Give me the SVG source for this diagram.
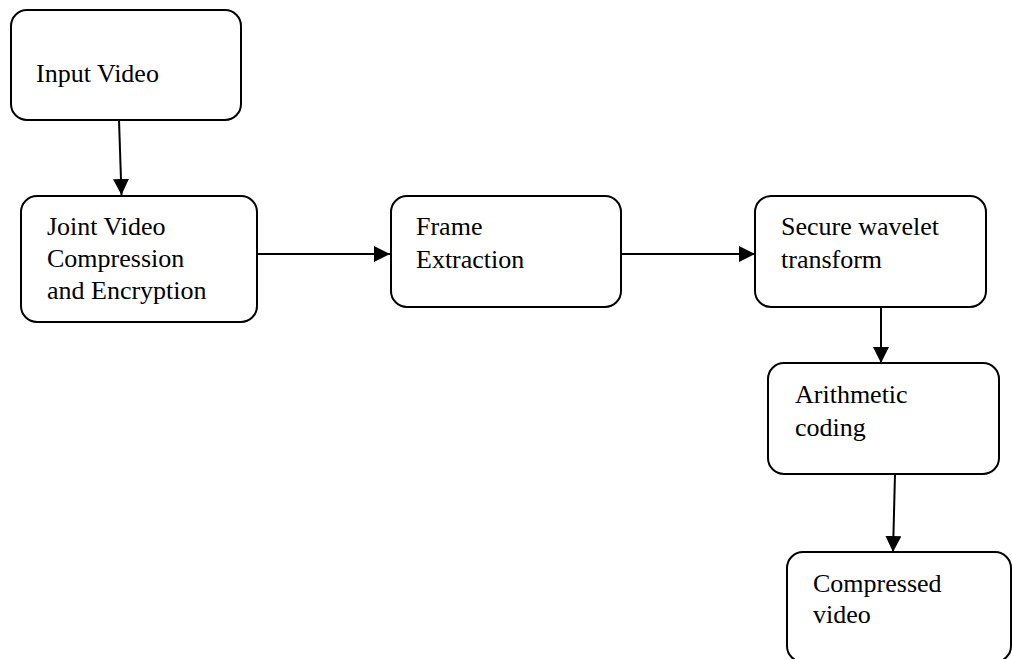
<svg xmlns="http://www.w3.org/2000/svg" width="1012" height="659" viewBox="0 0 1012 659">
<style>
.box{fill:#fff;stroke:#000;stroke-width:2}
.lbl{font-family:'Liberation Serif','Times New Roman',Times,'DejaVu Serif',serif;font-size:26px;fill:#000}
.con{stroke:#000;stroke-width:2;fill:none}
</style>
<defs>
<marker id="ah" viewBox="0 0 16 16" refX="16" refY="8" markerWidth="16" markerHeight="16" markerUnits="userSpaceOnUse" orient="auto">
<path d="M0,0 L16,8 L0,16 Z" fill="#000"/>
</marker>
</defs>
<rect width="1012" height="659" fill="#fff"/>
<g id="connectors">
<line class="con" x1="119" y1="120" x2="121.5" y2="195" marker-end="url(#ah)"/>
<line class="con" x1="257" y1="254" x2="390" y2="254" marker-end="url(#ah)"/>
<line class="con" x1="620" y1="254" x2="755" y2="254" marker-end="url(#ah)"/>
<line class="con" x1="881" y1="307" x2="881" y2="363" marker-end="url(#ah)"/>
<line class="con" x1="895" y1="474" x2="893" y2="552" marker-end="url(#ah)"/>
</g>
<g id="input-video">
<rect class="box" x="11" y="10" width="230" height="110" rx="16"/>
<text class="lbl" x="36" y="82" font-family="Liberation Serif, serif">Input Video</text>
</g>
<g id="joint-video">
<rect class="box" x="21" y="196" width="236" height="126" rx="16"/>
<text class="lbl" x="47" y="235">Joint Video</text>
<text class="lbl" x="47" y="267">Compression</text>
<text class="lbl" x="47" y="299">and Encryption</text>
</g>
<g id="frame-extraction">
<rect class="box" x="391" y="196" width="230" height="111" rx="16"/>
<text class="lbl" x="416" y="235">Frame</text>
<text class="lbl" x="416" y="268">Extraction</text>
</g>
<g id="secure-wavelet">
<rect class="box" x="755" y="196" width="231" height="111" rx="16"/>
<text class="lbl" x="781" y="235">Secure wavelet</text>
<text class="lbl" x="781" y="268">transform</text>
</g>
<g id="arithmetic-coding">
<rect class="box" x="768" y="363" width="231" height="111" rx="16"/>
<text class="lbl" x="795" y="403">Arithmetic</text>
<text class="lbl" x="795" y="436">coding</text>
</g>
<g id="compressed-video">
<rect class="box" x="787" y="552" width="224" height="110" rx="16"/>
<text class="lbl" x="813" y="592">Compressed</text>
<text class="lbl" x="813" y="623">video</text>
</g>
</svg>
